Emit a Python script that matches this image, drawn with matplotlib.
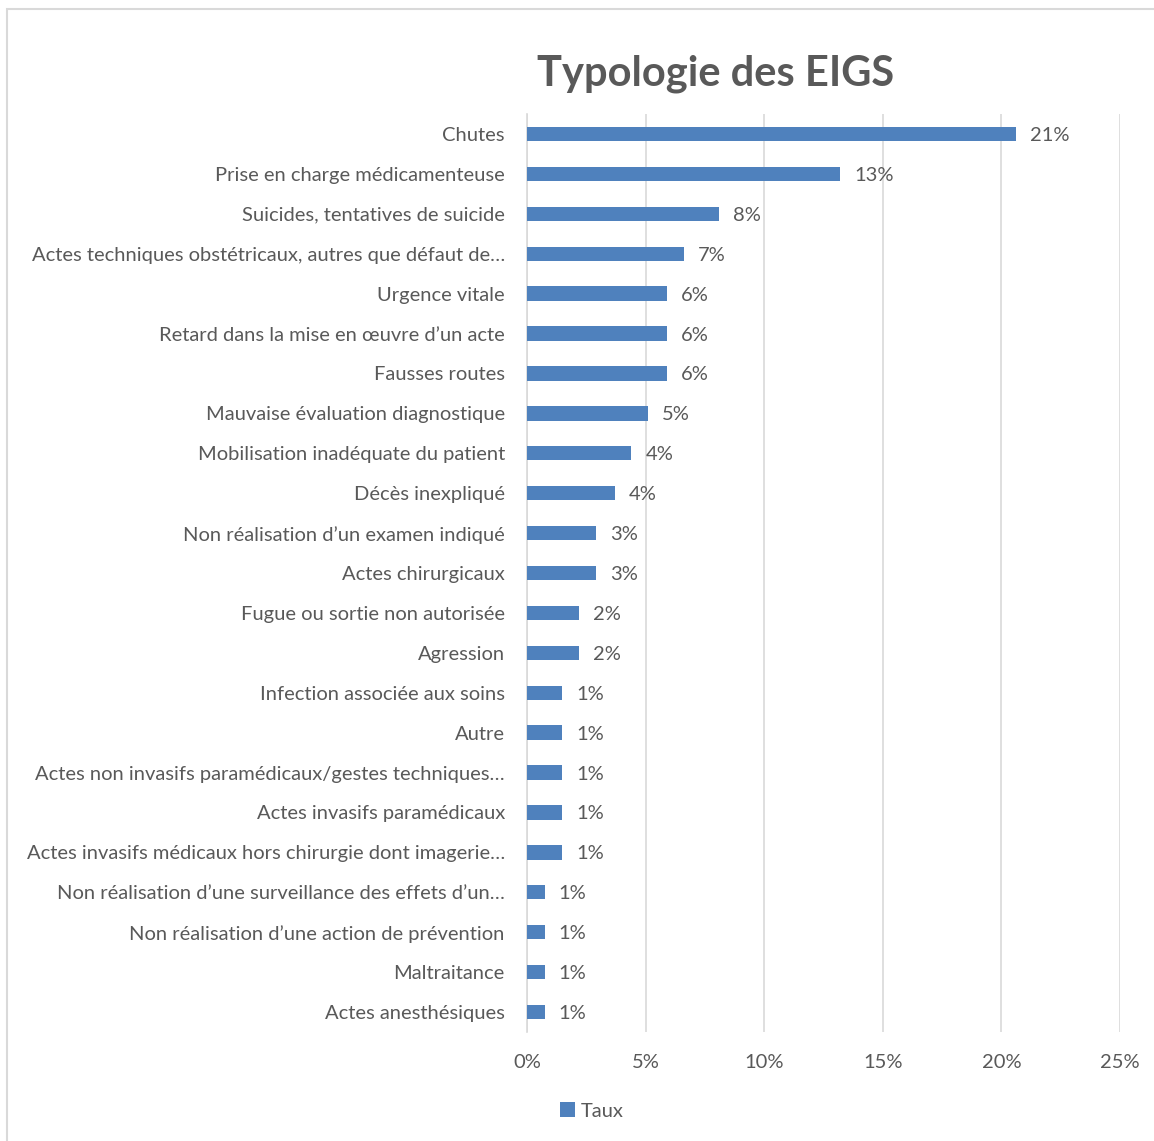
import matplotlib
matplotlib.use("Agg")
import matplotlib.pyplot as plt
from matplotlib.patches import Rectangle

plt.rcParams['font.family'] = ['Lato', 'DejaVu Sans']

categories = [
    "Chutes",
    "Prise en charge médicamenteuse",
    "Suicides, tentatives de suicide",
    "Actes techniques obstétricaux, autres que défaut de…",
    "Urgence vitale",
    "Retard dans la mise en œuvre d’un acte",
    "Fausses routes",
    "Mauvaise évaluation diagnostique",
    "Mobilisation inadéquate du patient",
    "Décès inexpliqué",
    "Non réalisation d’un examen indiqué",
    "Actes chirurgicaux",
    "Fugue ou sortie non autorisée",
    "Agression",
    "Infection associée aux soins",
    "Autre",
    "Actes non invasifs paramédicaux/gestes techniques…",
    "Actes invasifs paramédicaux",
    "Actes invasifs médicaux hors chirurgie dont imagerie…",
    "Non réalisation d’une surveillance des effets d’un…",
    "Non réalisation d’une action de prévention",
    "Maltraitance",
    "Actes anesthésiques",
]
taux = [20.6, 13.2, 8.1, 6.6, 5.9, 5.9, 5.9, 5.1, 4.4, 3.7, 2.9, 2.9,
        2.2, 2.2, 1.47, 1.47, 1.47, 1.47, 1.47, 0.74, 0.74, 0.74, 0.74]
xticks = [0, 5, 10, 15, 20, 25]

text_col = "#595959"
bar_col = "#4F81BD"
fs = 14.5

W, H = 1154, 1141
fig = plt.figure(figsize=(W / 100, H / 100), dpi=100)
ax = fig.add_axes([527 / W, 1 - 1032 / H, 593 / W, 918 / H])

y = list(range(len(categories)))
ax.barh(y, taux, height=0.36, color=bar_col, label="Taux", zorder=3)
for yi, v in zip(y, taux):
    ax.text(v + 0.6, yi, f"{v:.0f}%", va="center_baseline", ha="left",
            fontsize=fs, color=text_col)

ax.set_ylim(len(categories) - 0.5, -0.5)
ax.set_yticks(y)
ax.set_yticklabels(categories, fontsize=fs, color=text_col)
ax.set_xlim(0, 25)
ax.set_xticks(xticks)
ax.set_xticklabels([f"{t}%" for t in xticks], fontsize=fs, color=text_col)
ax.tick_params(axis="y", length=0, pad=16)
ax.tick_params(axis="x", length=0, pad=16)
ax.grid(axis="x", color="#D9D9D9", linewidth=1.2, zorder=0)
for s in ["top", "right", "bottom"]:
    ax.spines[s].set_visible(False)
ax.spines["left"].set_color("#D9D9D9")
ax.spines["left"].set_linewidth(1.2)

fig.text(716 / W, 1 - 74 / H, "Typologie des EIGS", ha="center", va="center",
         fontsize=30, fontweight="bold", color=text_col)

fig.legend(loc="center", bbox_to_anchor=(592 / W, 1 - 1111 / H), frameon=False,
           fontsize=fs, labelcolor=text_col, handlelength=0.7, handleheight=0.7,
           handletextpad=0.3)

fig.patches.append(Rectangle((7 / W, -0.01), 1.2, 1 - 9 / H + 0.01,
                             transform=fig.transFigure, fill=False,
                             edgecolor="#D9D9D9", linewidth=1.5))

fig.savefig("out.png", dpi=100)
